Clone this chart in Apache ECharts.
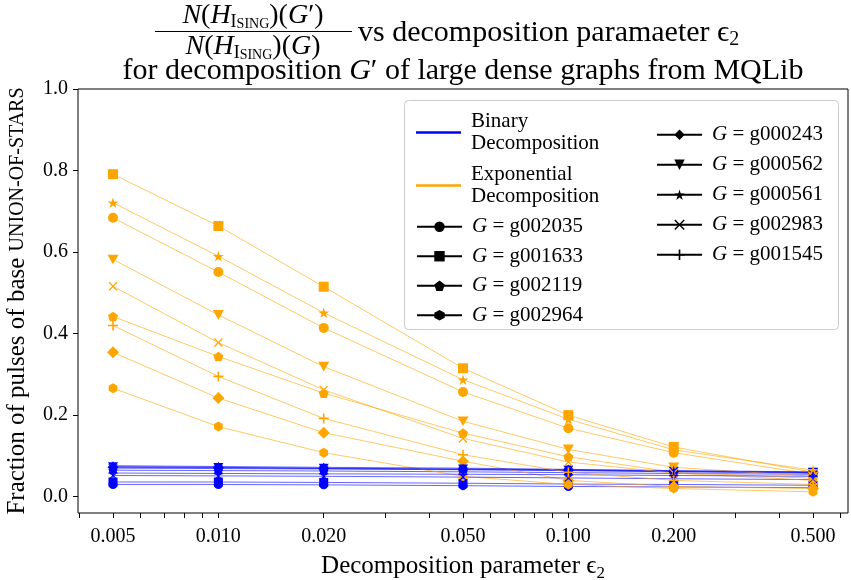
<!DOCTYPE html>
<html><head><meta charset="utf-8">
<script src="https://cdn.jsdelivr.net/npm/echarts@6/dist/echarts.min.js"></script>
<style>html,body{margin:0;padding:0;background:#fff}#c{width:851px;height:580px}</style>
</head><body><div id="c"></div>
<script>
// ---------- data ----------
const epsValues = [0.005, 0.01, 0.02, 0.05, 0.1, 0.2, 0.5];
const graphNames = ['g002035','g001633','g002119','g002964','g000243','g000562','g000561','g002983','g001545'];

// Exponential decomposition (orange)
const expG002035 = [0.684, 0.551, 0.414, 0.257, 0.168, 0.108, 0.055];
const expG001633 = [0.791, 0.664, 0.515, 0.315, 0.200, 0.122, 0.060];
const expG002119 = [0.442, 0.344, 0.254, 0.156, 0.098, 0.060, 0.045];
const expG002964 = [0.266, 0.172, 0.108, 0.050, 0.030, 0.020, 0.012];
const expG000243 = [0.354, 0.242, 0.157, 0.087, 0.040, 0.025, 0.020];
const expG000562 = [0.582, 0.446, 0.319, 0.185, 0.116, 0.072, 0.050];
const expG000561 = [0.721, 0.590, 0.451, 0.287, 0.190, 0.115, 0.065];
const expG002983 = [0.516, 0.378, 0.262, 0.143, 0.085, 0.058, 0.040];
const expG001545 = [0.420, 0.295, 0.192, 0.103, 0.060, 0.040, 0.030];

// Binary decomposition (blue)
const binG002035 = [0.030, 0.030, 0.029, 0.027, 0.025, 0.024, 0.022];
const binG001633 = [0.036, 0.036, 0.035, 0.033, 0.031, 0.030, 0.028];
const binG002119 = [0.065, 0.064, 0.063, 0.061, 0.059, 0.057, 0.055];
const binG002964 = [0.070, 0.069, 0.068, 0.066, 0.064, 0.061, 0.058];
const binG000243 = [0.072, 0.071, 0.069, 0.067, 0.065, 0.062, 0.059];
const binG000562 = [0.074, 0.072, 0.070, 0.068, 0.066, 0.063, 0.060];
const binG000561 = [0.076, 0.074, 0.072, 0.070, 0.067, 0.064, 0.061];
const binG002983 = [0.052, 0.051, 0.050, 0.048, 0.046, 0.044, 0.042];
const binG001545 = [0.058, 0.057, 0.056, 0.055, 0.054, 0.052, 0.050];

const xMajorTicks = [0.005, 0.01, 0.02, 0.05, 0.1, 0.2, 0.5];
const xAllTicks = [0.004,0.005,0.006,0.007,0.008,0.009,0.01,0.02,0.03,0.04,0.05,0.06,0.07,0.08,0.09,0.1,0.2,0.3,0.4,0.5,0.6];
const yTicks = [0, 0.2, 0.4, 0.6, 0.8, 1.0];
const legendCol1 = ['g002035','g001633','g002119','g002964'];
const legendCol2 = ['g000243','g000562','g000561','g002983','g001545'];

// ---------- styles ----------
const FONT = "'Liberation Serif', 'DejaVu Serif', serif";
const ORANGE = '#FFA500', BLUE = '#0000FF';
const expData = {g002035:expG002035,g001633:expG001633,g002119:expG002119,g002964:expG002964,g000243:expG000243,g000562:expG000562,g000561:expG000561,g002983:expG002983,g001545:expG001545};
const binData = {g002035:binG002035,g001633:binG001633,g002119:binG002119,g002964:binG002964,g000243:binG000243,g000562:binG000562,g000561:binG000561,g002983:binG002983,g001545:binG001545};
const markers = {
  g002035: {symbol:'circle', size:10},
  g001633: {symbol:'rect', size:10},
  g002119: {symbol:'path://M50,0 L97.6,34.5 L79.4,90.5 L20.6,90.5 L2.4,34.5 Z', size:10},
  g002964: {symbol:'path://M50,0 L93.3,25 L93.3,75 L50,100 L6.7,75 L6.7,25 Z', size:10},
  g000243: {symbol:'path://M50,0 L100,50 L50,100 L0,50 Z', size:12},
  g000562: {symbol:'path://M0,0 L100,0 L50,87 Z', size:11},
  g000561: {symbol:'path://M50,0 L61.2,34.5 L97.6,34.5 L68.2,55.9 L79.4,90.5 L50,69.1 L20.6,90.5 L31.8,55.9 L2.4,34.5 L38.8,34.5 Z', size:11},
  g002983: {symbol:'path://M0,10 L10,0 L50,40 L90,0 L100,10 L60,50 L100,90 L90,100 L50,60 L10,100 L0,90 L40,50 Z', size:9},
  g001545: {symbol:'path://M42,0 L58,0 L58,42 L100,42 L100,58 L58,58 L58,100 L42,100 L42,58 L0,58 L0,42 L42,42 Z', size:10}
};

const series = [];
graphNames.forEach(g => {
  const m = markers[g];
  [['bin', binData[g], BLUE], ['exp', expData[g], ORANGE]].forEach(([k, vals, col]) => {
    series.push({
      name: k + '-' + g, type: 'line',
      data: epsValues.map((x, i) => [x, vals[i]]),
      symbol: m.symbol, symbolSize: k === 'bin' ? m.size - 1 : m.size, symbolKeepAspect: true,
      itemStyle: {color: col, opacity: 1},
      lineStyle: {color: col, width: 1, opacity: 0.6},
      emphasis: {disabled: true}, silent: true
    });
  });
});
// legend-only series
series.push({name:'Binary Decomposition', type:'line', data:[], symbol:'none', itemStyle:{color:BLUE}, lineStyle:{color:BLUE, width:2}});
series.push({name:'Exponential Decomposition', type:'line', data:[], symbol:'none', itemStyle:{color:ORANGE}, lineStyle:{color:ORANGE, width:2}});
graphNames.forEach(g => {
  const m = markers[g];
  series.push({name:'G = ' + g, type:'line', data:[], symbol:m.symbol, symbolKeepAspect:true,
    itemStyle:{color:'#000'}, lineStyle:{color:'#000', width:2}});
});

const legendText = {fontFamily: FONT, fontSize: 21, color: '#000', lineHeight: 21.5, padding: [0,0,0,5],
  rich: {i: {fontFamily: FONT, fontSize: 21, fontStyle: 'italic', color: '#000'}}};
const gFmt = n => n.replace(/^G = /, '{i|G} = ');

const subStyle = {fontFamily: FONT, fontSize: 18, lineHeight: 11, verticalAlign: 'bottom', color:'#000'};
const subSc = {fontFamily: FONT, fontSize: 14, lineHeight: 11, verticalAlign: 'bottom', color:'#000'};
const itl = {fontFamily: FONT, fontSize: 28, fontStyle: 'italic', color:'#000'};

const option = {
  animation: false,
  backgroundColor: '#fff',
  grid: {left: 78, right: 3, top: 89, bottom: 67, show: true, borderColor: '#000', borderWidth: 1,
         backgroundColor: 'transparent', containLabel: false, outerBoundsMode: 'none'},
  xAxis: {
    type: 'log', logBase: 10, min: 0.0039716, max: 0.62946,
    axisLine: {show: false, onZero: false},
    axisTick: {show: true, inside: false, length: 5, lineStyle: {color: '#000'}, customValues: xAllTicks},
    axisLabel: {customValues: xMajorTicks, formatter: v => Number(v).toFixed(3), fontFamily: FONT, fontSize: 20, color: '#000', margin: 14},
    splitLine: {show: false}, minorTick: {show: false},
    name: 'Decomposition parameter {e|ϵ}{s|2}', nameLocation: 'middle', nameGap: 38,
    nameTextStyle: {fontFamily: FONT, fontSize: 25, color: '#000', lineHeight: 30,
      rich: {e: {fontFamily: FONT, fontSize: 25, color:'#000'}, s: {fontFamily: FONT, fontSize: 17, lineHeight: 12, verticalAlign: 'bottom', color:'#000'}}}
  },
  yAxis: {
    type: 'value', min: -0.04, max: 1.0,
    axisLine: {show: false, onZero: false},
    axisTick: {show: true, inside: false, length: 5, lineStyle: {color: '#000'}, customValues: yTicks},
    axisLabel: {customValues: yTicks, formatter: v => Number(v).toFixed(1), fontFamily: FONT, fontSize: 20, color: '#000', margin: 10},
    splitLine: {show: false},
    name: 'Fraction of pulses of base {sc|UNION-OF-STARS}', nameLocation: 'middle', nameGap: 48, nameRotate: 90,
    nameTextStyle: {fontFamily: FONT, fontSize: 25, color: '#000', rich: {sc: {fontFamily: FONT, fontSize: 20, color: '#000'}}}
  },
  legend: [
    {data: ['Binary Decomposition', 'Exponential Decomposition'], orient: 'vertical', left: 411, top: 106,
     icon: 'rect', itemWidth: 45, itemHeight: 2.5, itemGap: 10, selectedMode: false,
     formatter: n => n.replace(' ', '\n'), textStyle: legendText, z: 5},
    {data: legendCol1.map(g => 'G = ' + g), orient: 'vertical', left: 411, top: 211,
     itemWidth: 45, itemHeight: 13, itemGap: 8, selectedMode: false, formatter: gFmt, textStyle: legendText, z: 5},
    {data: legendCol2.map(g => 'G = ' + g), orient: 'vertical', left: 651, top: 119,
     itemWidth: 45, itemHeight: 13, itemGap: 8.5, selectedMode: false, formatter: gFmt, textStyle: legendText, z: 5}
  ],
  graphic: [
    {type: 'rect', z: 3, shape: {x: 404.5, y: 100.5, width: 434, height: 229, r: 4},
     style: {fill: 'rgba(255,255,255,0.8)', stroke: '#cccccc', lineWidth: 1}},
    {type: 'text', x: 253, y: 16, style: {text: '{n|N}({n|H}{s|I}{c|SING})({n|G}′)', fontFamily: FONT, fontSize: 28, lineHeight: 30,
      align: 'center', verticalAlign: 'middle', fill: '#000', rich: {n: itl, s: subStyle, c: subSc}}},
    {type: 'line', shape: {x1: 155, y1: 31.5, x2: 352, y2: 31.5}, style: {stroke: '#000', lineWidth: 1.2}},
    {type: 'text', x: 253, y: 47, style: {text: '{n|N}({n|H}{s|I}{c|SING})({n|G})', fontFamily: FONT, fontSize: 28, lineHeight: 30,
      align: 'center', verticalAlign: 'middle', fill: '#000', rich: {n: itl, s: subStyle, c: subSc}}},
    {type: 'text', x: 358, y: 33, style: {text: 'vs decomposition paramaeter ϵ{s|2}', fontFamily: FONT, fontSize: 30, lineHeight: 34,
      align: 'left', verticalAlign: 'middle', fill: '#000', rich: {s: {fontFamily: FONT, fontSize: 20, lineHeight: 14, verticalAlign: 'bottom', color:'#000'}}}},
    {type: 'text', x: 463, y: 71, style: {text: 'for decomposition {i|G}′ of large dense graphs from MQLib', fontFamily: FONT, fontSize: 30, lineHeight: 34,
      align: 'center', verticalAlign: 'middle', fill: '#000', rich: {i: {fontFamily: FONT, fontSize: 30, fontStyle: 'italic', color:'#000'}}}}
  ],
  series: series
};
const chart = echarts.init(document.getElementById('c'), null, {renderer: 'canvas'});
chart.setOption(option);
</script></body></html>
